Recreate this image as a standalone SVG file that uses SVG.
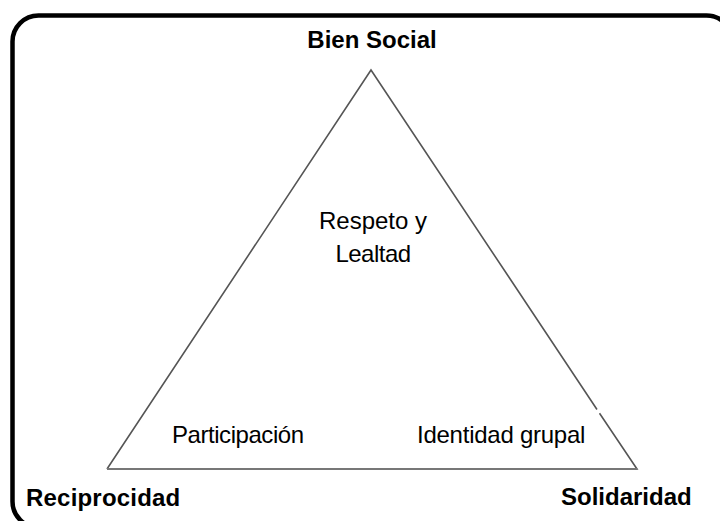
<svg xmlns="http://www.w3.org/2000/svg" width="720" height="521" viewBox="0 0 720 521">
  <style>
    .lbl { font-family: "Liberation Sans", Arial, sans-serif; fill: #000; }
    .b { font-weight: bold; font-size: 24px; }
    .r { font-size: 24px; }
    .tri { fill: none; stroke: #555; stroke-width: 1.6; stroke-linejoin: miter; }
  </style>
  <rect width="720" height="521" fill="#ffffff"/>
  <rect id="frame" x="12.5" y="15.5" width="720" height="512" rx="26" ry="26" fill="none" stroke="#000" stroke-width="4.5"/>
  <g id="connectors">
    <path class="tri" d="M107,469 L371,70 L597,409.5 M599.5,413.3 L637,469 L107,469"/>
    <line x1="107" y1="469" x2="637" y2="469" stroke="#777" stroke-width="2.2"/>
  </g>
  <g id="bien-social"><text class="lbl b" x="372" y="48" text-anchor="middle">Bien Social</text></g>
  <g id="reciprocidad"><text class="lbl b" x="26" y="506" letter-spacing="0.2">Reciprocidad</text></g>
  <g id="solidaridad"><text class="lbl b" x="561" y="505">Solidaridad</text></g>
  <g id="respeto-lealtad">
    <text class="lbl r" x="373" y="229" text-anchor="middle">Respeto y</text>
    <text class="lbl r" x="373" y="262" text-anchor="middle" letter-spacing="-0.5">Lealtad</text>
  </g>
  <g id="participacion"><text class="lbl r" x="172" y="443" letter-spacing="-0.45">Participación</text></g>
  <g id="identidad-grupal"><text class="lbl r" x="417" y="443" letter-spacing="-0.25">Identidad grupal</text></g>
</svg>
